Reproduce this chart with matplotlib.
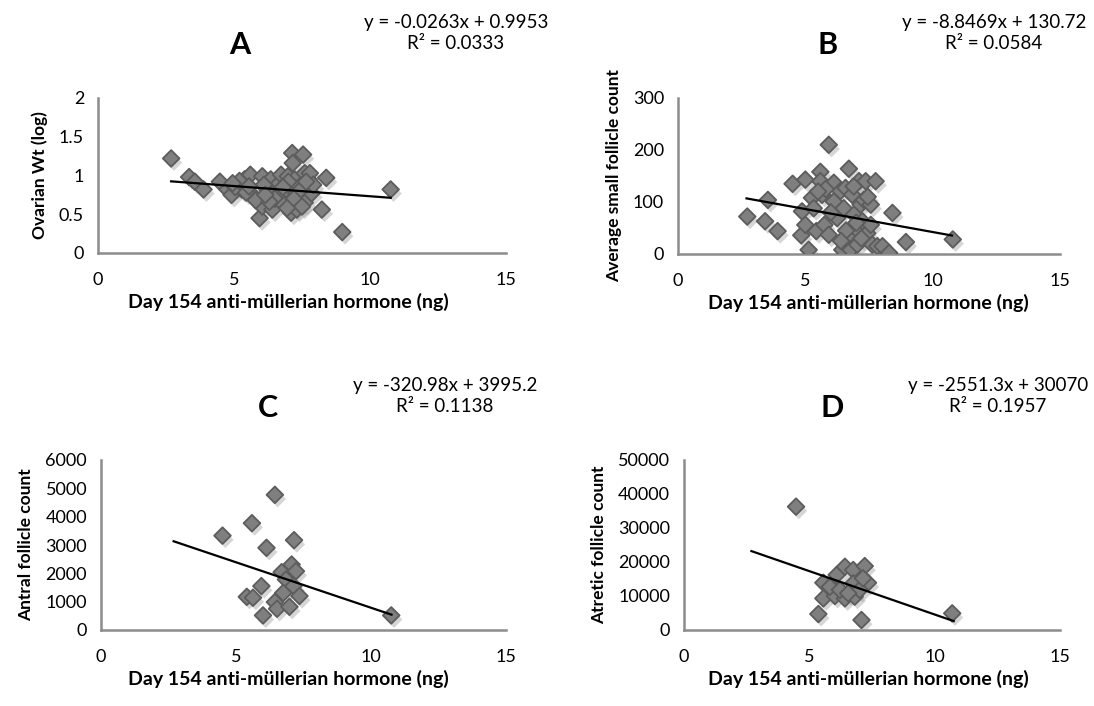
"""
Four scatter panels: day 154 AMH vs ovarian / follicle measures, with linear trendlines.
"""
import matplotlib
matplotlib.use("Agg")
import matplotlib.pyplot as plt
import matplotlib.patheffects as pe
import numpy as np

plt.rcParams["font.family"] = ["Lato", "DejaVu Sans"]

W, H = 1094, 706

# --- data ---
# A: ovarian weight (log)
amh_a = [2.69, 3.35, 3.56, 3.88, 4.48, 4.76, 4.91, 5.10, 5.29, 5.39, 5.60, 5.73, 5.94,
         6.04, 6.04, 6.23, 6.35, 6.41, 6.60, 6.66, 6.73, 6.91, 6.98, 7.04, 7.10, 7.14,
         7.16, 7.23, 7.29, 7.31, 7.41, 7.54, 7.60, 7.60, 7.73, 7.79, 7.85, 7.91, 8.23,
         8.39, 8.98, 10.76, 5.05, 5.45, 5.80, 6.10, 6.50, 6.85, 7.00, 7.40, 5.20, 5.55,
         6.30, 6.80, 7.20, 7.50, 4.95, 6.15, 6.95, 7.65]
ovw_a = [1.22, 0.98, 0.92, 0.82, 0.92, 0.82, 0.75, 0.88, 0.82, 0.95, 1.01, 0.73, 0.45,
         0.99, 0.60, 0.82, 0.95, 0.56, 0.73, 0.90, 1.01, 0.82, 0.99, 0.65, 0.52, 1.29,
         1.16, 0.95, 0.77, 0.56, 0.86, 1.27, 1.03, 0.65, 0.95, 1.03, 0.77, 0.88, 0.56,
         0.97, 0.27, 0.82, 0.85, 0.78, 0.68, 0.88, 0.70, 0.62, 0.92, 0.80, 0.93, 0.86,
         0.66, 0.85, 0.70, 0.60, 0.90, 0.75, 0.58, 0.92]

# B: average small follicle count
amh_b = [2.72, 3.53, 3.42, 3.91, 4.50, 5.00, 4.87, 4.84, 5.13, 5.00, 5.26, 5.33, 5.43,
         5.59, 5.59, 5.66, 5.75, 5.92, 5.92, 6.12, 6.12, 6.25, 6.38, 6.45, 6.51, 6.58,
         6.71, 6.71, 6.78, 6.84, 6.91, 6.97, 7.04, 7.11, 7.17, 7.24, 7.30, 7.37, 7.43,
         7.57, 7.57, 7.63, 7.76, 7.83, 8.03, 8.29, 8.42, 8.95, 10.79, 5.80, 6.00, 6.60,
         6.90, 7.20, 7.00, 6.40, 5.50, 7.45]
asf_b = [72, 104, 63, 44, 135, 143, 82, 36, 8, 56, 108, 88, 44,
         158, 140, 114, 56, 210, 37, 137, 101, 69, 121, 8, 88, 127,
         164, 37, 8, 114, 76, 50, 18, 140, 95, 63, 104, 140, 40,
         56, 95, 18, 140, 15, 15, 2, 79, 23, 28, 125, 80, 45,
         130, 30, 60, 25, 120, 110]

# C: antral follicle count
amh_c = [6.44, 5.59, 4.50, 6.13, 7.15, 7.06, 6.69, 7.22, 6.85, 5.94, 5.40, 5.63,
         6.75, 7.13, 7.35, 6.44, 6.52, 6.98, 6.00, 10.75]
afc_c = [4770, 3770, 3330, 2900, 3170, 2310, 2040, 2075, 1780, 1550, 1170, 1140,
         1310, 1550, 1200, 985, 750, 820, 515, 515]

# D: atretic follicle count
amh_d = [4.47, 5.36, 7.08, 10.70, 5.56, 5.56, 6.02, 6.09, 6.42, 6.42, 6.75, 6.75,
         6.81, 7.21, 7.34, 7.01, 5.82, 6.22, 6.55, 7.14]
atc_d = [36270, 4700, 2940, 4900, 13900, 9300, 10000, 16200, 9300, 18600, 17650, 13700,
         9800, 18800, 13900, 11800, 12700, 11800, 10800, 15200]

panel_letters = ["A", "B", "C", "D"]
y_labels = ["Ovarian Wt (log)", "Average small follicle count",
            "Antral follicle count", "Atretic follicle count"]
x_label = "Day 154 anti-müllerian hormone (ng)"
slopes = [-0.0263, -8.8469, -320.98, -2551.3]
intercepts = [0.9953, 130.72, 3995.2, 30070]
eq_texts = ["y = -0.0263x + 0.9953", "y = -8.8469x + 130.72",
            "y = -320.98x + 3995.2", "y = -2551.3x + 30070"]
r2_texts = ["R² = 0.0333", "R² = 0.0584", "R² = 0.1138", "R² = 0.1957"]
y_ticks = [[0, 0.5, 1, 1.5, 2], [0, 100, 200, 300],
           [0, 1000, 2000, 3000, 4000, 5000, 6000],
           [0, 10000, 20000, 30000, 40000, 50000]]
x_ticks = [0, 5, 10, 15]

xs = [amh_a, amh_b, amh_c, amh_d]
ys = [ovw_a, asf_b, afc_c, atc_d]

# trendlines span the full AMH range of the dataset
trend_x = np.array([min(amh_a), max(amh_a)])

# layout in pixels: (left, top, width, height)
boxes = [(98, 98, 408, 155), (678, 98, 382, 156),
         (101, 460, 405, 170), (684, 460, 376, 170)]
xlabel_cx = [288, 868, 288, 868]
letter_pos = [(240, 45), (828, 45), (268, 408), (832, 408)]
eq_pos = [(456, 33), (994, 33), (445, 396), (998, 396)]

fig = plt.figure(figsize=(W / 100, H / 100), dpi=100)

shadow = [pe.SimplePatchShadow(offset=(2, -3), shadow_rgbFace="#9a9a9a", alpha=0.4),
          pe.Normal()]

for i in range(4):
    l, t, w, h = boxes[i]
    ax = fig.add_axes([l / W, 1 - (t + h) / H, w / W, h / H])
    ax.scatter(xs[i], ys[i], marker="D", s=72, facecolor="#7f7f7f",
               edgecolor="#5c5c5c", linewidths=1.3, zorder=3, path_effects=shadow)
    ax.plot(trend_x, slopes[i] * trend_x + intercepts[i], color="black", lw=1.6, zorder=4)

    ax.set_xlim(0, 15)
    ax.set_ylim(y_ticks[i][0], y_ticks[i][-1])
    ax.set_xticks(x_ticks)
    ax.set_yticks(y_ticks[i])
    ax.set_yticklabels([f"{v:g}" for v in y_ticks[i]])
    ax.tick_params(length=0, labelsize=13, colors="black", pad=10)
    ax.tick_params(axis="x", pad=14)
    for side in ["top", "right"]:
        ax.spines[side].set_visible(False)
    for side in ["left", "bottom"]:
        ax.spines[side].set_color("#8c8c8c")
        ax.spines[side].set_linewidth(1.8)
    ax.set_xlabel(x_label, fontsize=14, fontweight="bold")
    ax.xaxis.set_label_coords((xlabel_cx[i] - l) / w, -40 / h)
    ax.set_ylabel(y_labels[i], fontsize=12.5, fontweight="bold", labelpad=8)

    lx, ly = letter_pos[i]
    fig.text(lx / W, 1 - ly / H, panel_letters[i], fontsize=22, fontweight="bold",
             ha="center", va="center")
    ex, ey = eq_pos[i]
    fig.text(ex / W, 1 - ey / H, eq_texts[i] + "\n" + r2_texts[i], fontsize=13.5,
             ha="center", va="center", multialignment="center", linespacing=1.25)

fig.savefig("out.png", dpi=100)
